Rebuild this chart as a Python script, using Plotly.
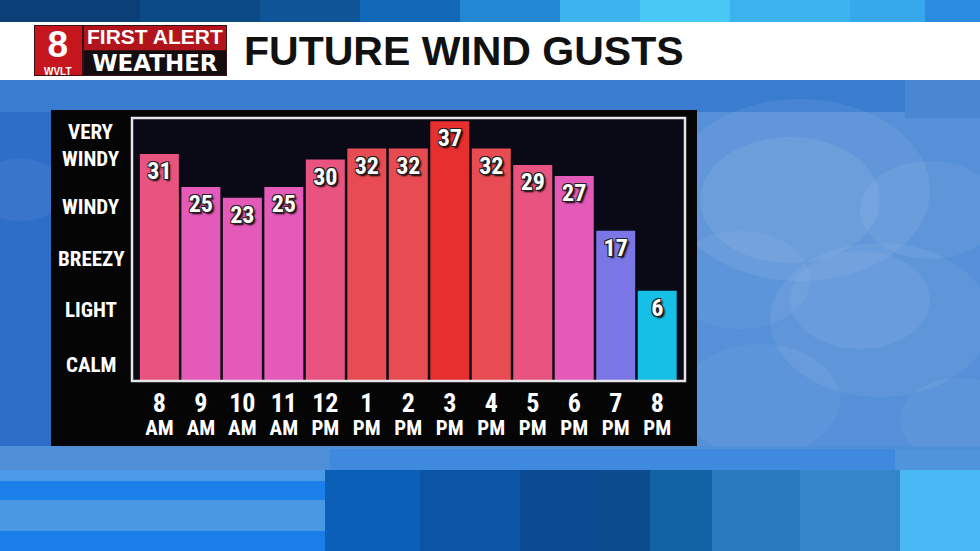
import plotly.graph_objects as go

# ---------------- data ----------------
hours = ["8", "9", "10", "11", "12", "1", "2", "3", "4", "5", "6", "7", "8"]
ampm = ["AM", "AM", "AM", "AM", "PM", "PM", "PM", "PM", "PM", "PM", "PM", "PM", "PM"]
categories = ["8 AM", "9 AM", "10 AM", "11 AM", "12 PM", "1 PM", "2 PM",
              "3 PM", "4 PM", "5 PM", "6 PM", "7 PM", "8 PM"]
gusts = [31, 25, 23, 25, 30, 32, 32, 37, 32, 29, 27, 17, 6]
level_labels = ["CALM", "LIGHT", "BREEZY", "WINDY", "VERY<br>WINDY"]
level_vals = [-7.6, 2.5, 11.8, 21.3, 32.5]
title_text = "FUTURE WIND GUSTS"

# ---------------- style ----------------
bar_colors = ["#e8547f", "#e35ab8", "#e35ab8", "#e35ab8", "#e8547f", "#e84b52",
              "#e84b52", "#e62f2e", "#e84b52", "#e8547f", "#e35ab8", "#7b76e6", "#16bfe6"]
BASE = -10.5
YTOP = 37.6
NARROW = "Roboto Condensed, Open Sans Condensed, Liberation Sans Narrow, DejaVu Sans Condensed, sans-serif"
WIDE = "Liberation Sans, Arial, sans-serif"

FW, FH = 980, 551
L, T, R, B = 132, 118, 685, 381
PW, PH = R - L, B - T


def px(x):
    return (x - L) / PW


def py(y):
    return (B - y) / PH


def rect(x0, y0, x1, y1, color, layer="below", line=None, opacity=1.0):
    return dict(type="rect", xref="paper", yref="paper",
                x0=px(x0), x1=px(x1), y0=py(y1), y1=py(y0),
                fillcolor=color, layer=layer, opacity=opacity,
                line=line if line else dict(width=0))


def circle(cx, cy, r, color, opacity):
    return dict(type="circle", xref="paper", yref="paper",
                x0=px(cx - r), x1=px(cx + r), y0=py(cy + r * 0.7), y1=py(cy - r * 0.7),
                fillcolor=color, opacity=opacity, layer="below", line=dict(width=0))


shapes = []
# sky
shapes.append(rect(0, 0, FW, FH, "#3f83d6"))
shapes.append(rect(0, 80, 60, 470, "#2e6ec9"))
shapes.append(rect(0, 80, 980, 112, "#3a7ccf"))
shapes.append(rect(697, 112, 980, 470, "#5590d8"))
shapes.append(rect(905, 80, 980, 118, "#4a86d2"))
for cx, cy, r, op in [(800, 190, 130, 0.07), (790, 200, 90, 0.07), (880, 320, 110, 0.06),
                      (860, 300, 70, 0.06), (760, 400, 80, 0.05), (930, 210, 70, 0.06),
                      (740, 280, 70, 0.05), (960, 420, 60, 0.05), (20, 190, 45, 0.05)]:
    shapes.append(circle(cx, cy, r, "#ffffff", op))
# top strip
for x0, x1, c in [(0, 140, "#0a3f78"), (140, 260, "#0b4a86"), (260, 360, "#0d5596"),
                  (360, 460, "#1168b6"), (460, 560, "#2388d4"), (560, 640, "#3cb4ee"),
                  (640, 730, "#48c8f5"), (730, 850, "#3cb2ef"), (850, 925, "#36a8ec"),
                  (925, 980, "#2a8ce0")]:
    shapes.append(rect(x0, 0, x1, 22, c))
# white header
shapes.append(rect(0, 22, FW, 80, "#ffffff"))
# bottom bands
shapes.append(rect(0, 446, 980, 470, "#4e8fd8"))
shapes.append(rect(330, 449, 895, 470, "#3f8ade"))
shapes.append(rect(895, 449, 980, 470, "#4f95dc"))
for y0, y1, c in [(470, 481, "#4c9ae8"), (481, 500, "#1c80ea"), (500, 531, "#4a98e4"),
                  (531, 551, "#1a7ee8")]:
    shapes.append(rect(0, y0, 325, y1, c))
for x0, x1, c in [(325, 420, "#0b5fb6"), (420, 520, "#0a55a4"), (520, 600, "#094a90"),
                  (600, 650, "#0a4c8c"), (650, 712, "#1262a6"), (712, 800, "#2a7abf"),
                  (800, 900, "#3286c9"), (900, 980, "#4ab8f5")]:
    shapes.append(rect(x0, 470, x1, 551, c))
# logo boxes
shapes.append(rect(34, 25, 227, 76, "#3a1014"))
shapes.append(rect(35, 26, 82, 75, "#c4161c"))
shapes.append(rect(84, 26, 226, 50, "#b3141c"))
shapes.append(rect(84, 51, 226, 75, "#140c0e"))
# black panel + plot area
shapes.append(rect(51, 110, 697, 446, "#050506"))
shapes.append(rect(L, T, R, B, "#0a0a16"))
# white frame on top
shapes.append(dict(type="rect", xref="paper", yref="paper", x0=0, x1=1, y0=0, y1=1,
                   layer="above", line=dict(color="#e6e6ea", width=2.5),
                   fillcolor="rgba(0,0,0,0)"))

annotations = []
# title
annotations.append(dict(text="<b>" + title_text + "</b>", x=px(464), y=py(51),
                        xref="paper", yref="paper", showarrow=False,
                        xanchor="center", yanchor="middle",
                        font=dict(family=WIDE, size=41, color="#111111")))
# logo texts
annotations.append(dict(text="<span style='font-size:37px'><b>8</b></span><br>"
                             "<span style='font-size:10px'><b>WVLT</b></span>",
                        x=px(58), y=py(50), xref="paper", yref="paper",
                        showarrow=False, xanchor="center", yanchor="middle",
                        font=dict(family=WIDE, size=13.5, color="#ffffff")))
annotations.append(dict(text="<span style='font-size:21px'><b>FIRST ALERT</b></span><br>"
                             "<span style='font-size:23px;font-family:DejaVu Sans'><b>WEATHER</b></span>",
                        x=px(155), y=py(51), xref="paper",
                        yref="paper", showarrow=False, xanchor="center", yanchor="middle",
                        font=dict(family=WIDE, size=21, color="#ffffff")))
# level labels
for lab, val in zip(level_labels, level_vals):
    annotations.append(dict(text="<b>" + lab + "</b>", x=px(91), y=val, xref="paper",
                            yref="y", showarrow=False, xanchor="center",
                            yanchor="middle", align="center",
                            font=dict(family=NARROW, size=21, color="#ffffff")))

ticktext = ["<span style='font-size:26px'><b>%s</b></span><br>"
            "<span style='font-size:21px'><b>%s</b></span>" % (h, a)
            for h, a in zip(hours, ampm)]

fig = go.Figure()
fig.add_trace(go.Bar(
    x=categories,
    y=[g - BASE for g in gusts],
    base=BASE,
    marker=dict(color=bar_colors, line=dict(width=0)),
    text=["<b>%d</b>" % g for g in gusts],
    textposition="inside",
    insidetextanchor="end",
    textangle=0,
    constraintext="none",
    textfont=dict(family=NARROW, size=24, color="#ffffff",
                  shadow="1px 1px 0 #222, -1px -1px 0 #222, 1px -1px 0 #222, -1px 1px 0 #222, 2px 2px 2px #000"),
    hoverinfo="skip",
))

fig.update_layout(
    width=FW, height=FH,
    margin=dict(l=L, r=FW - R, t=T, b=FH - B, pad=0),
    paper_bgcolor="#3f83d6",
    plot_bgcolor="rgba(0,0,0,0)",
    bargap=0.06,
    showlegend=False,
    shapes=shapes,
    annotations=annotations,
    xaxis=dict(type="category", range=[-0.66, 12.67], tickmode="array",
               tickvals=categories, ticktext=ticktext, showgrid=False, zeroline=False,
               showline=False, ticks="", ticklabelstandoff=12,
               tickfont=dict(family=NARROW, size=18, color="#ffffff")),
    yaxis=dict(range=[BASE, YTOP], showgrid=False, zeroline=False, showline=False,
               showticklabels=False, ticks=""),
)

fig.write_html("out.html", config={"displayModeBar": False},
               post_script="document.body.style.margin='0px';document.body.style.padding='0px';")
